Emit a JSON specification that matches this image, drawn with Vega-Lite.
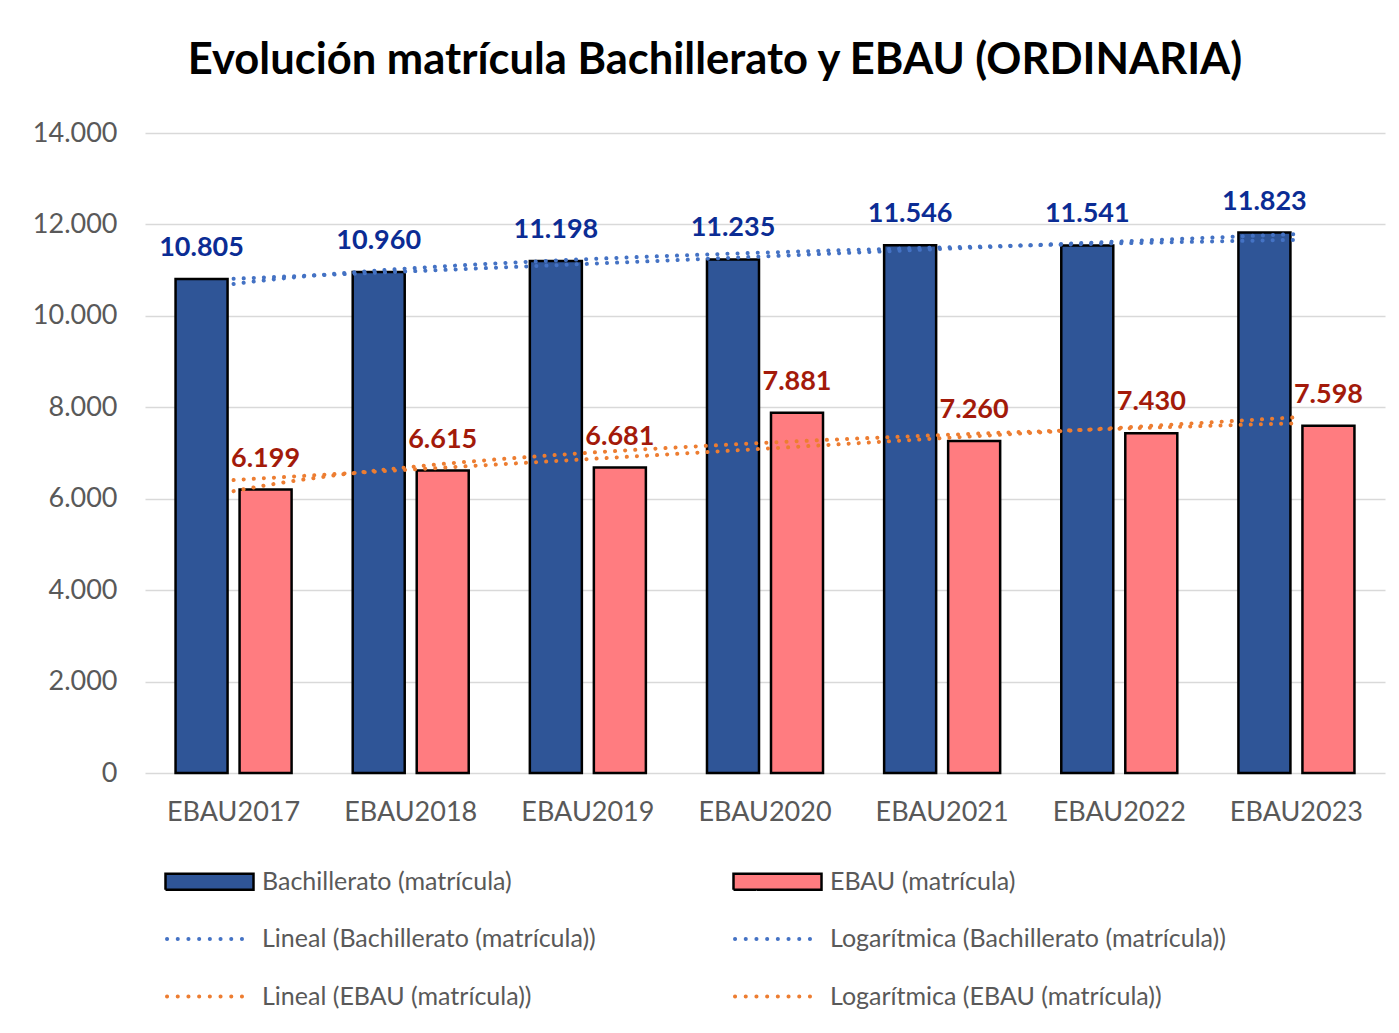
{
  "$schema": "https://vega.github.io/schema/vega-lite/v6.json",
  "width": 1240,
  "height": 640,
  "autosize": {"type": "none"},
  "padding": {"left": 145, "top": 133, "right": 14, "bottom": 260},
  "background": "white",
  "config": {
    "locale": {"number": {"decimal": ",", "thousands": ".", "grouping": [3], "currency": ["", " €"]}},
    "font": "Lato",
    "view": {"stroke": null},
    "axis": {"labelFont": "Lato", "labelFontSize": 27, "labelColor": "#595959", "ticks": false, "domain": false, "title": null}
  },
  "title": {
    "text": "Evolución matrícula Bachillerato y EBAU (ORDINARIA)",
    "font": "Lato", "fontSize": 43.5, "fontWeight": "bold", "color": "#000000",
    "anchor": "middle", "dx": -50, "offset": 2, "baseline": "alphabetic"
  },
  "data": {
    "values": [
      {"anio": "EBAU2017", "n": 1, "serie": "Bachillerato (matrícula)", "valor": 10805},
      {"anio": "EBAU2018", "n": 2, "serie": "Bachillerato (matrícula)", "valor": 10960},
      {"anio": "EBAU2019", "n": 3, "serie": "Bachillerato (matrícula)", "valor": 11198},
      {"anio": "EBAU2020", "n": 4, "serie": "Bachillerato (matrícula)", "valor": 11235},
      {"anio": "EBAU2021", "n": 5, "serie": "Bachillerato (matrícula)", "valor": 11546},
      {"anio": "EBAU2022", "n": 6, "serie": "Bachillerato (matrícula)", "valor": 11541},
      {"anio": "EBAU2023", "n": 7, "serie": "Bachillerato (matrícula)", "valor": 11823},
      {"anio": "EBAU2017", "n": 1, "serie": "EBAU (matrícula)", "valor": 6199},
      {"anio": "EBAU2018", "n": 2, "serie": "EBAU (matrícula)", "valor": 6615},
      {"anio": "EBAU2019", "n": 3, "serie": "EBAU (matrícula)", "valor": 6681},
      {"anio": "EBAU2020", "n": 4, "serie": "EBAU (matrícula)", "valor": 7881},
      {"anio": "EBAU2021", "n": 5, "serie": "EBAU (matrícula)", "valor": 7260},
      {"anio": "EBAU2022", "n": 6, "serie": "EBAU (matrícula)", "valor": 7430},
      {"anio": "EBAU2023", "n": 7, "serie": "EBAU (matrícula)", "valor": 7598}
    ]
  },
  "layer": [
    {
      "mark": {"type": "bar", "stroke": "#000000", "strokeWidth": 2.5},
      "encoding": {
        "x": {"field": "anio", "type": "nominal", "scale": {"paddingInner": 0.345, "paddingOuter": 0.1725},
              "axis": {"labelAngle": 0, "labelPadding": 26, "grid": false}},
        "xOffset": {"field": "serie", "type": "nominal", "scale": {"paddingInner": 0.1875, "paddingOuter": 0}},
        "y": {"field": "valor", "type": "quantitative", "scale": {"domain": [0, 14000], "nice": false},
              "axis": {"format": ",d", "values": [0, 2000, 4000, 6000, 8000, 10000, 12000, 14000], "labelPadding": 28, "gridColor": "#D9D9D9", "gridWidth": 1.5}},
        "fill": {"condition": {"test": "datum.serie == 'Bachillerato (matrícula)'", "value": "#2F5597"}, "value": "#FF7C80"}
      }
    },
    {
      "mark": {"type": "text", "fontSize": 27, "fontWeight": "bold", "baseline": "alphabetic", "dy": -23, "font": "Lato"},
      "encoding": {
        "x": {"field": "anio", "type": "nominal", "scale": {"paddingInner": 0.345, "paddingOuter": 0.1725}, "axis": null},
        "xOffset": {"field": "serie", "type": "nominal", "scale": {"paddingInner": 0.1875, "paddingOuter": 0}},
        "y": {"field": "valor", "type": "quantitative"},
        "text": {"field": "valor", "type": "quantitative", "format": ",d"},
        "color": {"condition": {"test": "datum.serie == 'Bachillerato (matrícula)'", "value": "#0B2C94"}, "value": "#A31A0A"}
      }
    },
    {
      "transform": [
        {"filter": "datum.serie == 'Bachillerato (matrícula)'"},
        {"regression": "valor", "on": "n", "method": "linear", "extent": [1, 7]}
      ],
      "mark": {"type": "line", "strokeWidth": 4, "strokeDash": [0.1, 10], "strokeCap": "round"},
      "encoding": {
        "x": {"field": "n", "type": "quantitative", "scale": {"domain": [0.5, 7.5], "nice": false, "zero": false}, "axis": null},
        "y": {"field": "valor", "type": "quantitative"},
        "color": {"datum": "Lineal (Bachillerato (matrícula))",
          "scale": {
            "domain": ["Bachillerato (matrícula)", "Lineal (Bachillerato (matrícula))", "Lineal (EBAU (matrícula))", "EBAU (matrícula)", "Logarítmica (Bachillerato (matrícula))", "Logarítmica (EBAU (matrícula))"],
            "range": ["#000000", "#4472C4", "#ED7D31", "#000000", "#4472C4", "#ED7D31"]
          },
          "legend": {
            "orient": "none", "legendX": 23, "legendY": 736, "columns": 2, "title": null,
            "padding": 0, "labelFont": "Lato", "labelFontSize": 25, "labelColor": "#595959",
            "labelLimit": 600, "symbolSize": 900, "symbolType": "M-1,-0.533H4.867V0.533H-1Z",
            "labelOffset": 69, "rowPadding": 31.5, "columnPadding": 131,
            "encode": {
              "symbols": {
                "update": {
                  "shape": {"signal": "(datum.value == 'Bachillerato (matrícula)' || datum.value == 'EBAU (matrícula)') ? 'M-1,-0.533H4.867V0.533H-1Z' : 'M-0.9,0H4.8'"},
                  "size": {"value": 900},
                  "fill": {"signal": "datum.value == 'Bachillerato (matrícula)' ? '#2F5597' : (datum.value == 'EBAU (matrícula)' ? '#FF7C80' : 'transparent')"},
                  "stroke": {"signal": "(datum.value == 'Bachillerato (matrícula)' || datum.value == 'EBAU (matrícula)') ? '#000000' : (indexof(datum.value, 'Bachillerato') >= 0 ? '#4472C4' : '#ED7D31')"},
                  "strokeWidth": {"signal": "(datum.value == 'Bachillerato (matrícula)' || datum.value == 'EBAU (matrícula)') ? 2.5 : 4"},
                  "strokeDash": {"signal": "(datum.value == 'Bachillerato (matrícula)' || datum.value == 'EBAU (matrícula)') ? [1, 0] : [0.1, 10.6]"},
                  "strokeCap": {"signal": "(datum.value == 'Bachillerato (matrícula)' || datum.value == 'EBAU (matrícula)') ? 'butt' : 'round'"},
                  "opacity": {"value": 1},
                  "fillOpacity": {"value": 1},
                  "strokeOpacity": {"value": 1}
                }
              }
            }
          }}
      }
    },
    {
      "transform": [
        {"filter": "datum.serie == 'Bachillerato (matrícula)'"},
        {"regression": "valor", "on": "n", "method": "log", "extent": [1, 7]}
      ],
      "mark": {"type": "line", "strokeWidth": 4, "strokeDash": [0.1, 10], "strokeCap": "round"},
      "encoding": {
        "x": {"field": "n", "type": "quantitative", "scale": {"domain": [0.5, 7.5], "nice": false, "zero": false}, "axis": null},
        "y": {"field": "valor", "type": "quantitative"},
        "color": {"datum": "Logarítmica (Bachillerato (matrícula))"}
      }
    },
    {
      "transform": [
        {"filter": "datum.serie == 'EBAU (matrícula)'"},
        {"regression": "valor", "on": "n", "method": "linear", "extent": [1, 7]}
      ],
      "mark": {"type": "line", "strokeWidth": 4, "strokeDash": [0.1, 10], "strokeCap": "round"},
      "encoding": {
        "x": {"field": "n", "type": "quantitative", "scale": {"domain": [0.5, 7.5], "nice": false, "zero": false}, "axis": null},
        "y": {"field": "valor", "type": "quantitative"},
        "color": {"datum": "Lineal (EBAU (matrícula))"}
      }
    },
    {
      "transform": [
        {"filter": "datum.serie == 'EBAU (matrícula)'"},
        {"regression": "valor", "on": "n", "method": "log", "extent": [1, 7]}
      ],
      "mark": {"type": "line", "strokeWidth": 4, "strokeDash": [0.1, 10], "strokeCap": "round"},
      "encoding": {
        "x": {"field": "n", "type": "quantitative", "scale": {"domain": [0.5, 7.5], "nice": false, "zero": false}, "axis": null},
        "y": {"field": "valor", "type": "quantitative"},
        "color": {"datum": "Logarítmica (EBAU (matrícula))"}
      }
    }
  ],
  "resolve": {"scale": {"x": "independent"}, "axis": {"x": "independent"}}
}
